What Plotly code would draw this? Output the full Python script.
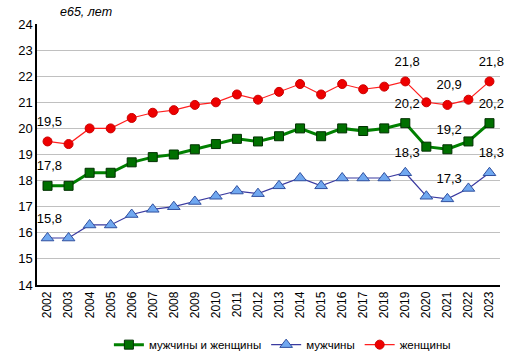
import plotly.graph_objects as go

years = [str(y) for y in range(2002, 2024)]
both = [17.8, 17.8, 18.3, 18.3, 18.7, 18.9, 19.0, 19.2, 19.4, 19.6, 19.5,
        19.7, 20.0, 19.7, 20.0, 19.9, 20.0, 20.2, 19.3, 19.2, 19.5, 20.2]
men = [15.8, 15.8, 16.3, 16.3, 16.7, 16.9, 17.0, 17.2, 17.4, 17.6, 17.5,
       17.8, 18.1, 17.8, 18.1, 18.1, 18.1, 18.3, 17.4, 17.3, 17.7, 18.3]
women = [19.5, 19.4, 20.0, 20.0, 20.4, 20.6, 20.7, 20.9, 21.0, 21.3, 21.1,
         21.4, 21.7, 21.3, 21.7, 21.5, 21.6, 21.8, 21.0, 20.9, 21.1, 21.8]
labeled_years = ["2002", "2019", "2021", "2023"]

font = "Liberation Sans, Arial, sans-serif"
fig = go.Figure()
fig.add_trace(go.Scatter(x=years, y=both, name="мужчины и женщины", mode="lines+markers",
                         line=dict(color="#008000", width=3),
                         marker=dict(symbol="square", size=9, color="#007000",
                                     line=dict(color="#003000", width=1))))
fig.add_trace(go.Scatter(x=years, y=men, name="мужчины", mode="lines+markers",
                         line=dict(color="#3a3aa0", width=1.2),
                         marker=dict(symbol="triangle-up", size=11, color="#70a8f0",
                                     line=dict(color="#3050a0", width=1))))
fig.add_trace(go.Scatter(x=years, y=women, name="женщины", mode="lines+markers",
                         line=dict(color="#ff2020", width=1.2),
                         marker=dict(symbol="circle", size=9, color="#ee0000",
                                     line=dict(color="#cc0000", width=1))))

for series in (both, men, women):
    idx = [years.index(yr) for yr in labeled_years]
    fig.add_trace(go.Scatter(
        x=[years[i] for i in idx], y=[series[i] for i in idx],
        text=["\u00a0" + f"{series[i]:.1f}".replace(".", ",") for i in idx],
        mode="markers+text", textposition="top center", cliponaxis=False,
        marker=dict(size=18, color="rgba(0,0,0,0)"),
        textfont=dict(family=font, size=13, color="#000000"),
        showlegend=False, hoverinfo="skip"))

fig.add_annotation(x=0.045, y=1.0, xref="paper", yref="paper", yshift=3, xanchor="left", yanchor="bottom",
                   text="<i>e65, лет</i>", showarrow=False,
                   font=dict(family=font, size=12.5, color="#000000"))

fig.update_layout(
    width=513, height=359,
    margin=dict(l=37, r=13, t=24, b=74, autoexpand=False),
    paper_bgcolor="white", plot_bgcolor="white",
    font=dict(family=font, size=13, color="#000000"),
    showlegend=True,
    legend=dict(orientation="h", x=0.53, xanchor="center", yref="container", y=0.04,
                yanchor="middle", font=dict(family=font, size=11.5), itemwidth=30),
    xaxis=dict(type="category", tickangle=-90, showline=True, linecolor="#000000",
               linewidth=1.5, showgrid=False, ticks="", tickfont=dict(size=12),
               range=[-0.5, len(years) - 0.5], automargin=False),
    yaxis=dict(range=[14, 24], dtick=1, showline=True, linecolor="#000000", linewidth=1.5,
               gridcolor="#c0c0c0", ticks="", tickfont=dict(size=13), zeroline=False,
               automargin=False),
)
fig.write_html("out.html", config={"displayModeBar": False},
               post_script="document.body.style.margin='0';document.body.style.overflow='hidden';")
